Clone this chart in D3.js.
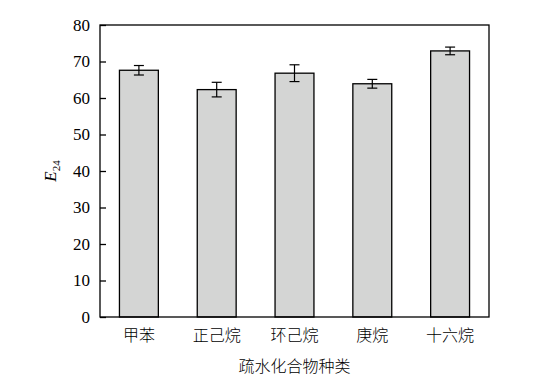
<!DOCTYPE html>
<html>
<head>
<meta charset="utf-8">
<script src="https://cdn.jsdelivr.net/npm/d3@7"></script>
<style>
  body { margin: 0; background: #fff; }
  svg text { fill: #000; }
</style>
</head>
<body>
<div id="root"></div>
<script>
const w = 557;
const h = 381;
const margin = { top: 25, bottom: 64, left: 100, right: 68 };

const categories = ["甲苯", "正己烷", "环己烷", "庚烷", "十六烷"];
const values = [67.6, 62.3, 66.8, 63.9, 72.9];
const errors = [1.3, 2.0, 2.3, 1.2, 1.05];
const yTicks = [0, 10, 20, 30, 40, 50, 60, 70, 80];

const serif = "'Liberation Serif', 'DejaVu Serif', serif";
const cjk = "'Noto Sans CJK SC', sans-serif";

const xScale = d3.scaleBand()
    .domain(categories)
    .range([margin.left, w - margin.right])
    .paddingInner(0.5)
    .paddingOuter(0.25);

const yScale = d3.scaleLinear()
    .domain([0, 80])
    .range([h - margin.bottom, margin.top]);

const svg = d3.select("#root")
    .append("svg")
    .attr("width", w)
    .attr("height", h);

// bars
svg.selectAll("rect.bar")
    .data(values)
    .enter()
    .append("rect")
    .attr("class", "bar")
    .attr("x", (d, i) => xScale(categories[i]))
    .attr("y", d => yScale(d))
    .attr("width", xScale.bandwidth())
    .attr("height", d => yScale(0) - yScale(d))
    .attr("fill", "#d4d5d4")
    .attr("stroke", "#000")
    .attr("stroke-width", 1.3);

// error bars
const cap = 5;
const eb = svg.append("g").attr("stroke", "#000").attr("stroke-width", 1.2);
values.forEach((v, i) => {
    const cx = xScale(categories[i]) + xScale.bandwidth() / 2;
    const y1 = yScale(v + errors[i]);
    const y2 = yScale(v - errors[i]);
    eb.append("line").attr("x1", cx).attr("x2", cx).attr("y1", y1).attr("y2", y2);
    eb.append("line").attr("x1", cx - cap).attr("x2", cx + cap).attr("y1", y1).attr("y2", y1);
    eb.append("line").attr("x1", cx - cap).attr("x2", cx + cap).attr("y1", y2).attr("y2", y2);
});

// frame
svg.append("rect")
    .attr("x", margin.left)
    .attr("y", margin.top)
    .attr("width", w - margin.left - margin.right)
    .attr("height", h - margin.top - margin.bottom)
    .attr("fill", "none")
    .attr("stroke", "#000")
    .attr("stroke-width", 1.3);

// y-axis, ticks pointing inward
const yAxis = d3.axisLeft(yScale).tickValues(yTicks).tickSizeInner(-6).tickSizeOuter(0).tickPadding(10);
const gy = svg.append("g")
    .attr("transform", "translate(" + margin.left + ",0)")
    .call(yAxis);
gy.select(".domain").remove();
gy.selectAll(".tick line").attr("stroke-width", 1.3);
gy.selectAll(".tick text")
    .style("font-family", serif)
    .style("font-size", "17px");

// x-axis labels
const xAxis = d3.axisBottom(xScale).tickSize(0).tickPadding(13);
const gx = svg.append("g")
    .attr("transform", "translate(0," + (h - margin.bottom) + ")")
    .call(xAxis);
gx.select(".domain").remove();
gx.selectAll(".tick text")
    .style("font-family", cjk)
    .style("font-size", "16px")
    .style("font-weight", 300);

// axis titles
svg.append("text")
    .attr("x", (margin.left + w - margin.right) / 2)
    .attr("y", 372)
    .attr("text-anchor", "middle")
    .style("font-family", cjk)
    .style("font-size", "16px")
    .style("font-weight", 300)
    .text("疏水化合物种类");

const yt = svg.append("text")
    .attr("transform", "translate(56," + yScale(40) + ") rotate(-90)")
    .attr("text-anchor", "middle")
    .style("font-family", serif)
    .style("font-size", "17px");
yt.append("tspan").style("font-style", "italic").text("E");
yt.append("tspan").attr("dy", 4).style("font-size", "11px").text("24");
</script>
</body>
</html>
